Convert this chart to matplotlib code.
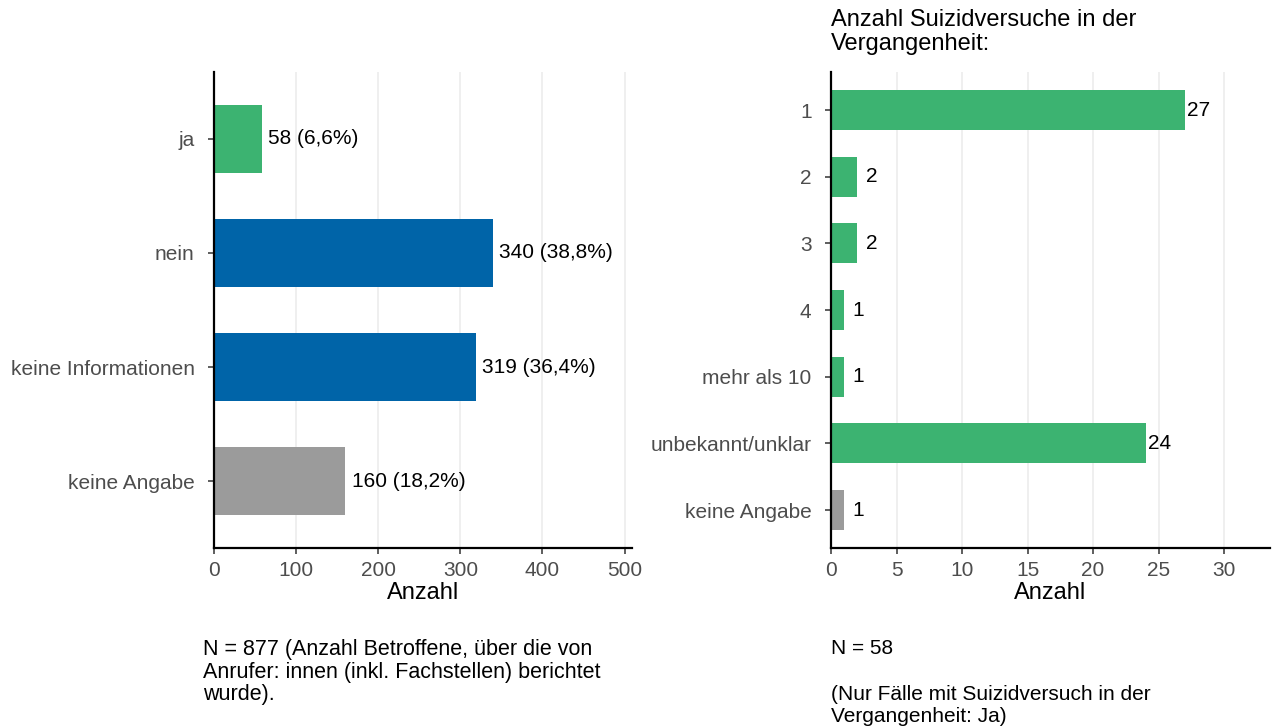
import matplotlib.pyplot as plt

plt.rcParams['font.family'] = ['Liberation Sans', 'DejaVu Sans']

# left panel data
leftCats = ['ja', 'nein', 'keine Informationen', 'keine Angabe']
leftVals = [58, 340, 319, 160]
leftLabels = ['58 (6,6%)', '340 (38,8%)', '319 (36,4%)', '160 (18,2%)']
leftColors = ['#3CB371', '#0064A8', '#0064A8', '#9B9B9B']

# right panel data
rightCats = ['1', '2', '3', '4', 'mehr als 10', 'unbekannt/unklar', 'keine Angabe']
rightVals = [27, 2, 2, 1, 1, 24, 1]
rightColors = ['#3CB371'] * 6 + ['#9B9B9B']

W, H = 1274, 728
fig = plt.figure(figsize=(W / 100, H / 100), dpi=100)

tickGrey = '#4D4D4D'


def styleAxes(ax, xlim, xticks):
    ax.set_xlim(*xlim)
    ax.set_xticks(xticks)
    for s in ['top', 'right']:
        ax.spines[s].set_visible(False)
    for s in ['left', 'bottom']:
        ax.spines[s].set_linewidth(1.6)
        ax.spines[s].set_color('black')
    ax.grid(axis='x', color='#EBEBEB', linewidth=1.1)
    ax.set_axisbelow(True)
    ax.tick_params(axis='both', colors='#333333', labelcolor=tickGrey,
                   labelsize=15, length=4, width=1.1)
    ax.tick_params(axis='x', pad=5)
    ax.tick_params(axis='y', pad=10)
    ax.set_xlabel('Anzahl', fontsize=17, labelpad=2)


# left panel: x 214..632, y 72..548
axL = fig.add_axes([214 / W, 1 - 548 / H, (632 - 214) / W, (548 - 72) / H])
yL = range(len(leftCats))
axL.barh(yL, leftVals, height=0.6, color=leftColors)
for y, v, lab in zip(yL, leftVals, leftLabels):
    axL.annotate(lab, (v, y), xytext=(4.5, 0), textcoords='offset points',
                 va='center', ha='left', fontsize=15)
axL.set_yticks(list(yL))
axL.set_yticklabels(leftCats)
axL.set_ylim(len(leftCats) - 1 + 0.585, -0.585)
styleAxes(axL, (0, 509), [0, 100, 200, 300, 400, 500])

# right panel: x 831..1270, y 72..548
axR = fig.add_axes([831 / W, 1 - 548 / H, (1270 - 831) / W, (548 - 72) / H])
yR = range(len(rightCats))
axR.barh(yR, rightVals, height=0.6, color=rightColors)
for y, v in zip(yR, rightVals):
    # single digit labels sit a bit further from the bar end
    off = 6 if v < 10 else 1.5
    axR.annotate(str(v), (v, y), xytext=(off, 0), textcoords='offset points',
                 va='center', ha='left', fontsize=15)
axR.set_yticks(list(yR))
axR.set_yticklabels(rightCats)
axR.set_ylim(len(rightCats) - 1 + 0.57, -0.57)
styleAxes(axR, (0, 33.5), [0, 5, 10, 15, 20, 25, 30])

fig.text(831 / W, 1 - 9 / H, 'Anzahl Suizidversuche in der\nVergangenheit:',
         ha='left', va='top', fontsize=17, linespacing=1.13)

fig.text(203 / W, 1 - 639 / H,
         'N = 877 (Anzahl Betroffene, über die von\nAnrufer: innen (inkl. Fachstellen) berichtet\nwurde).',
         ha='left', va='top', fontsize=15.5, linespacing=1.1)
fig.text(831 / W, 1 - 639 / H,
         'N = 58\n\n(Nur Fälle mit Suizidversuch in der\nVergangenheit: Ja)',
         ha='left', va='top', fontsize=15, linespacing=1.25)

fig.savefig('out.png', dpi=100)
